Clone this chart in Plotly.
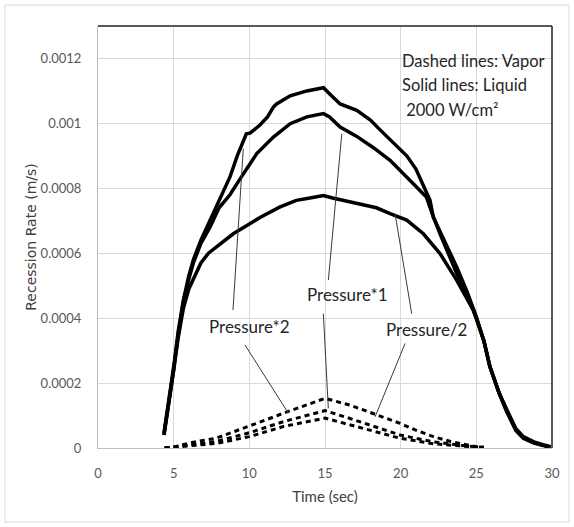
import plotly.graph_objects as go

# ---------------- data ----------------
# Liquid (solid) curves
t_liq_p2 = [4.36, 4.7, 5.0, 5.3, 5.64, 6.0, 6.3, 6.8, 7.4, 8.0, 8.72, 9.2, 9.6, 9.8, 10.05, 10.7,
            11.2, 11.59, 11.8, 12.7, 13.8, 14.4, 14.9, 15.33, 16.0, 17.1, 18.0, 18.64, 19.3, 20.4,
            21.0, 21.7, 21.94, 22.15, 23.0, 23.7, 24.4, 25.0, 25.5, 25.9, 26.5, 27.0, 27.6, 28.1,
            28.8, 29.4, 29.9]
v_liq_p2 = [0.000046, 0.00015, 0.00025, 0.00036, 0.000455, 0.00053, 0.00058, 0.00064, 0.00070,
            0.00076, 0.000835, 0.0009, 0.00095, 0.000968, 0.00097, 0.000995, 0.00102, 0.00105,
            0.00106, 0.001085, 0.0011, 0.001105, 0.00111, 0.00109, 0.00106, 0.00104, 0.00101,
            0.00098, 0.00095, 0.0009, 0.00086, 0.00079, 0.000763, 0.000712, 0.00063, 0.000558,
            0.00048, 0.000404, 0.00033, 0.00025, 0.00017, 0.000117, 0.00006, 0.000035, 0.000019,
            0.00001, 0.000004]

t_liq_p1 = [4.36, 4.7, 5.0, 5.3, 5.64, 6.0, 6.3, 6.8, 7.4, 8.0, 8.72, 9.4, 10.49, 11.59, 12.7,
            13.8, 14.9, 15.3, 16.0, 17.1, 18.2, 19.3, 20.6, 21.7, 22.1, 22.6, 23.7, 24.4, 25.0,
            25.5, 25.9, 26.5, 27.0, 27.6, 28.1, 28.8, 29.4, 29.9]
v_liq_p1 = [0.00004, 0.00014, 0.00024, 0.00035, 0.00045, 0.00052, 0.00057, 0.00063, 0.00068,
            0.00074, 0.00078, 0.00083, 0.000907, 0.000958, 0.000999, 0.00102, 0.00103, 0.00102,
            0.000989, 0.00096, 0.000925, 0.000886, 0.000825, 0.000773, 0.00072, 0.00066,
            0.000538, 0.00047, 0.0004, 0.00033, 0.00025, 0.00017, 0.000115, 0.00006, 0.000033,
            0.000017, 0.000009, 0.000003]

t_liq_half = [4.36, 4.7, 5.0, 5.3, 5.64, 6.0, 6.3, 6.8, 7.3, 7.84, 8.94, 10.0, 10.7, 12.0, 13.1,
              14.0, 14.9, 15.5, 17.1, 18.4, 19.3, 20.4, 21.5, 22.6, 23.7, 24.8, 25.5, 25.9, 26.5,
              27.0, 27.6, 28.1, 28.8, 29.4, 29.9]
v_liq_half = [0.00004, 0.00014, 0.00024, 0.00034, 0.00043, 0.00049, 0.00052, 0.00057, 0.0006,
              0.00062, 0.00066, 0.00069, 0.00071, 0.000742, 0.000763, 0.00077, 0.000778, 0.00077,
              0.000753, 0.00074, 0.000722, 0.000702, 0.00066, 0.000599, 0.000517, 0.000425,
              0.00033, 0.00025, 0.00017, 0.000112, 0.000055, 0.00003, 0.000015, 0.000008, 0.000002]

# Vapor (dashed) curves
t_vap_p2 = [4.4, 5.0, 5.6, 6.5, 7.8, 9.0, 10.0, 11.0, 12.24, 13.5, 15.0, 16.65, 18.3, 19.96,
            21.0, 22.16, 23.3, 24.4, 25.0, 25.5]
v_vap_p2 = [0.0, 0.000003, 0.00001, 0.00002, 0.00003, 0.00005, 0.000066, 0.000085, 0.000107,
            0.000128, 0.000153, 0.000132, 0.000104, 0.000076, 0.000055, 0.000035, 0.00002,
            0.000009, 0.000004, 0.000002]

t_vap_p1 = [4.4, 5.6, 7.8, 10.0, 12.24, 15.0, 16.65, 19.96, 22.16, 24.4, 25.5]
v_vap_p1 = [0.0, 0.000007, 0.00002, 0.000047, 0.000081, 0.000115, 0.000091, 0.00004, 0.000019,
            0.000006, 0.000002]

t_vap_half = [4.4, 5.6, 7.8, 10.0, 12.24, 15.0, 16.65, 19.96, 22.16, 24.4, 25.5]
v_vap_half = [0.0, 0.000005, 0.000014, 0.000035, 0.000066, 0.000092, 0.000071, 0.00003,
              0.000013, 0.000004, 0.000001]

x_tick_vals = [0, 5, 10, 15, 20, 25, 30]
y_tick_vals = [0, 0.0002, 0.0004, 0.0006, 0.0008, 0.001, 0.0012]
y_tick_text = ["0", "0.0002", "0.0004", "0.0006", "0.0008", "0.001", "0.0012"]

note_lines = ["Dashed lines: Vapor", "Solid lines: Liquid", " 2000 W/cm²"]
case_labels = ["Pressure*2", "Pressure*1", "Pressure/2"]

# ---------------- figure ----------------
FONT = "Lato, 'Open Sans', sans-serif"
WIDE = "'DejaVu Sans', Lato, sans-serif"
fig = go.Figure()

solid = dict(color="black", width=3.5)
dashed = dict(color="black", width=3, dash="5px,4px")

for t, v, nm in [(t_liq_p2, v_liq_p2, "Liquid, Pressure*2"),
                 (t_liq_p1, v_liq_p1, "Liquid, Pressure*1"),
                 (t_liq_half, v_liq_half, "Liquid, Pressure/2")]:
    fig.add_trace(go.Scatter(x=t, y=v, mode="lines", line=solid, name=nm, showlegend=False))

for t, v, nm in [(t_vap_p2, v_vap_p2, "Vapor, Pressure*2"),
                 (t_vap_p1, v_vap_p1, "Vapor, Pressure*1"),
                 (t_vap_half, v_vap_half, "Vapor, Pressure/2")]:
    fig.add_trace(go.Scatter(x=t, y=v, mode="lines", line=dashed, name=nm, showlegend=False))

# leader lines (annotation pointers)
leaders = [
    (8.92, 0.000425, 9.60, 0.000922),
    (9.72, 0.000317, 12.58, 0.000107),
    (15.22, 0.000517, 16.11, 0.000968),
    (14.89, 0.000414, 15.22, 0.000122),
    (20.73, 0.000414, 19.63, 0.000722),
    (20.29, 0.000322, 18.31, 0.0000963),
]
shapes = []
for x0, y0, x1, y1 in leaders:
    shapes.append(dict(type="line", xref="x", yref="y", x0=x0, y0=y0, x1=x1, y1=y1,
                       line=dict(color="#3a3a3a", width=1)))

# plot-area border: top and right in black
shapes.append(dict(type="line", xref="paper", yref="paper", x0=0, y0=1, x1=1, y1=1,
                   line=dict(color="#222222", width=1.5)))
shapes.append(dict(type="line", xref="paper", yref="paper", x0=1, y0=0, x1=1, y1=1,
                   line=dict(color="#222222", width=1.5)))
# outer chart frame
shapes.append(dict(type="rect", xref="paper", yref="paper",
                   x0=-0.2048, x1=1.0374, y0=-0.1754, y1=1.0498,
                   line=dict(color="#d9d9d9", width=1), layer="below"))

annotations = []
label_pos = [(9.98, 0.000375), (16.46, 0.000474), (21.71, 0.000366)]
for (lx, ly), txt in zip(label_pos, case_labels):
    annotations.append(dict(x=lx, y=ly, xref="x", yref="y", text=txt, showarrow=False,
                            font=dict(family=FONT, size=17, color="#262626")))

note_y = [0.001192, 0.001117, 0.00104]
for ny, txt in zip(note_y, note_lines):
    annotations.append(dict(x=19.96, y=ny, xref="x", yref="y", text=txt, showarrow=False,
                            xanchor="left", font=dict(family=FONT, size=16.5, color="#262626")))

fig.update_layout(
    width=574, height=527,
    margin=dict(l=98, r=22, t=26, b=79),
    paper_bgcolor="white", plot_bgcolor="white",
    shapes=shapes, annotations=annotations,
    font=dict(family=FONT, color="#595959"),
    xaxis=dict(range=[0, 30], tickvals=x_tick_vals, showgrid=True, gridcolor="#d9d9d9",
               gridwidth=1, zeroline=False, showline=True, linecolor="#bfbfbf", linewidth=1,
               ticks="", tickfont=dict(family=FONT, size=13, color="#595959"),
               ticklabelstandoff=13, automargin=False,
               title=dict(text="Time (sec)", font=dict(family=FONT, size=15, color="#404040"),
                          standoff=11)),
    yaxis=dict(range=[0, 0.0013], tickvals=y_tick_vals, ticktext=y_tick_text, showgrid=True,
               gridcolor="#d9d9d9", gridwidth=1, zeroline=False, showline=True,
               linecolor="#bfbfbf", linewidth=1, ticks="", automargin=False,
               tickfont=dict(family=FONT, size=13, color="#595959"), ticklabelstandoff=13,
               title=dict(text="Recession Rate (m/s)",
                          font=dict(family=WIDE, size=14, color="#404040"), standoff=0)),
)

fig.write_html("out.html", config={"displayModeBar": False},
               post_script="document.body.style.margin='0px';")
